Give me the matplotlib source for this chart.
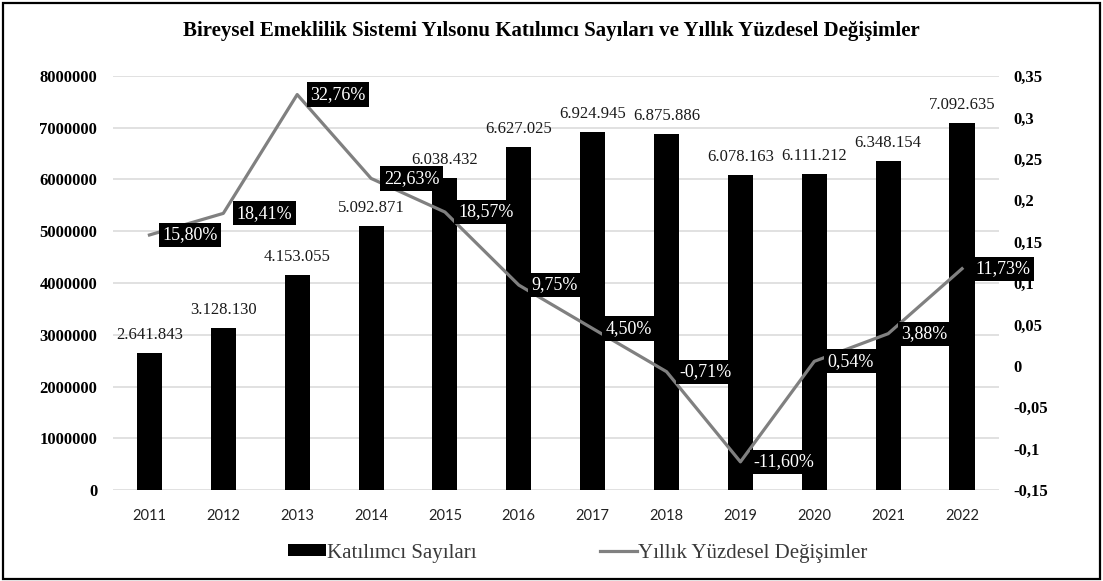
"""
Bireysel Emeklilik Sistemi - yilsonu katilimci sayilari (bar)
ve yillik yuzdesel degisim (line, sag eksen)
"""
import matplotlib
matplotlib.use('Agg')
import matplotlib.pyplot as plt
from matplotlib.patches import Rectangle
from matplotlib.ticker import FuncFormatter, MultipleLocator

# Data
years = ['2011', '2012', '2013', '2014', '2015', '2016',
         '2017', '2018', '2019', '2020', '2021', '2022']
participants = [2641843, 3128130, 4153055, 5092871, 6038432, 6627025,
                6924945, 6875886, 6078163, 6111212, 6348154, 7092635]
yearly_change = [0.1580, 0.1841, 0.3276, 0.2263, 0.1857, 0.0975,
                 0.0450, -0.0071, -0.1160, 0.0054, 0.0388, 0.1173]

TITLE = 'Bireysel Emeklilik Sistemi Yılsonu Katılımcı Sayıları ve Yıllık Yüzdesel Değişimler'
BAR_LABEL = 'Katılımcı Sayıları'
LINE_LABEL = 'Yıllık Yüzdesel Değişimler'

SERIF = 'Liberation Serif'
SANS = 'Lato'
GRID_COLOR = '#d9d9d9'
LINE_COLOR = '#808080'


def tr_thousands(v):
    return f'{v:,}'.replace(',', '.')


def tr_percent(p):
    return f'{p * 100:.2f}%'.replace('.', ',')


fig = plt.figure(figsize=(11.03, 5.81), dpi=100)
ax = fig.add_axes([0.102, 0.1566, 0.8037, 0.7126])
ax2 = ax.twinx()

x = list(range(len(years)))

# Bars - participant counts
ax.bar(x, participants, width=0.34, color='black', zorder=2, label=BAR_LABEL)
for xi, v in zip(x, participants):
    ax.annotate(tr_thousands(v), (xi, v), xytext=(0, 18), textcoords='offset pixels',
                ha='center', va='center', fontsize=12, family=SERIF, color='#1a1a1a')

ax.set_xlim(-0.5, len(years) - 0.5)
ax.set_ylim(0, 8000000)
ax.yaxis.set_major_locator(MultipleLocator(1000000))
ax.yaxis.set_major_formatter(FuncFormatter(lambda v, _: f'{int(v)}'))
ax.set_xticks(x)
ax.set_xticklabels(years, family=SANS, fontsize=10.5, color='#222222')
ax.grid(axis='y', color=GRID_COLOR, linewidth=1.1, zorder=0)
ax.set_axisbelow(True)
ax.tick_params(axis='x', length=0, pad=14)
ax.tick_params(axis='y', length=0, pad=11)
for lbl in ax.get_yticklabels():
    lbl.set_family(SERIF)
    lbl.set_fontweight('bold')
    lbl.set_fontsize(12)

# Line - yearly change on the right axis
ax2.plot(x, yearly_change, color=LINE_COLOR, linewidth=2.3, zorder=3, label=LINE_LABEL)
for xi, p in zip(x, yearly_change):
    ax2.annotate(tr_percent(p), (xi, p), xytext=(13, 0), textcoords='offset pixels',
                 ha='left', va='center', fontsize=13, family=SERIF, color='white',
                 bbox=dict(boxstyle='square,pad=0.2', facecolor='black', edgecolor='none'),
                 zorder=5, annotation_clip=False)

ax2.set_ylim(-0.15, 0.35)
ax2.yaxis.set_major_locator(MultipleLocator(0.05))
ax2.yaxis.set_major_formatter(FuncFormatter(lambda v, _: f'{round(v, 2):g}'.replace('.', ',')))
ax2.tick_params(axis='y', length=0, pad=10)
for lbl in ax2.get_yticklabels():
    lbl.set_family(SERIF)
    lbl.set_fontweight('bold')
    lbl.set_fontsize(12)

for a in (ax, ax2):
    for s in a.spines.values():
        s.set_visible(False)

# Title
fig.text(0.5, 0.947, TITLE, ha='center', va='center', fontsize=15,
         fontweight='bold', family=SERIF)

# Legend at the bottom
handles = [ax.containers[0], ax2.get_lines()[0]]
fig.legend(handles, [BAR_LABEL, LINE_LABEL], loc='center', bbox_to_anchor=(0.524, 0.048),
           ncol=2, frameon=False, prop=dict(family=SERIF, size=15),
           labelcolor='#3a3a3a', handlelength=1.8, handleheight=0.5,
           handletextpad=0.05, columnspacing=5.9)

# Outer frame
fig.patches.append(Rectangle((0.003, 0.004), 0.994, 0.991, transform=fig.transFigure,
                             fill=False, edgecolor='black', linewidth=1.6))

fig.savefig('out.png', dpi=100)
